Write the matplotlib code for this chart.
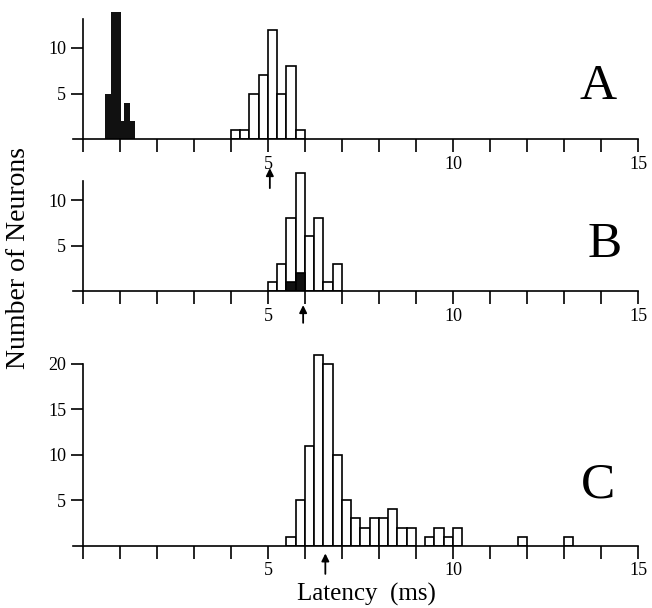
import matplotlib
matplotlib.use("Agg")
import numpy as np
import matplotlib.pyplot as plt

plt.rcParams['font.family'] = ['Liberation Serif', 'DejaVu Serif']

BIN = 0.25

# panel A: open bars (0.25 ms bins from 4.0 ms), filled bars (measured edges)
a_open_start = 4.0
a_open = [1, 1, 5, 7, 12, 5, 8, 1]
a_black_edges = [0.6, 0.75, 1.04, 1.12, 1.28, 1.4]
a_black = [5, 14, 2, 4, 2]

# panel B
b_open_start = 5.0
b_open = [1, 3, 8, 13, 6, 8, 1, 3]
b_black_start = 5.5
b_black = [1, 2]

# panel C
c_open_start = 5.5
c_open = [1, 5, 11, 21, 20, 10, 5, 3, 2, 3, 3, 4, 2, 2, 0, 1, 2, 1, 2,
          0, 0, 0, 0, 0, 0, 1, 0, 0, 0, 0, 1]

# arrows marking mean latency (ms)
arrow_x = {'A': 5.05, 'B': 5.95, 'C': 6.55}

W, H = 652, 608
fig = plt.figure(figsize=(W / 100, H / 100), dpi=100)

PX = 9.1  # pixels per neuron


def make_ax(bottom_px, top_px, spine_top):
    ax = fig.add_axes([73 / W, 1 - bottom_px / H, 565 / W, (bottom_px - top_px) / H])
    ax.set_xlim(-0.27, 15)
    ax.set_ylim(0, (bottom_px - top_px) / PX)
    for s in ['top', 'right']:
        ax.spines[s].set_visible(False)
    ax.spines['left'].set_position(('data', 0))
    ax.spines['left'].set_bounds(0, spine_top)
    for s in ['left', 'bottom']:
        ax.spines[s].set_linewidth(1.2)
    ax.set_xticks(np.arange(0, 16))
    ax.set_xticklabels(['5' if t == 5 else '10' if t == 10 else '15' if t == 15 else ''
                        for t in range(16)])
    ax.tick_params(direction='out', length=9, width=1.2, labelsize=13, pad=3)
    ax.patch.set_visible(False)
    return ax


def open_bars(ax, start, counts):
    x = start + BIN * np.arange(len(counts))
    h = np.array(counts, dtype=float)
    m = h > 0
    ax.bar(x[m], h[m], width=BIN, align='edge', facecolor='white',
           edgecolor='black', linewidth=1.2)


def arrow(ax, x, head, tail):
    ax.annotate('', xy=(x, head), xytext=(x, tail),
                arrowprops=dict(arrowstyle='-|>', lw=1.3, color='black',
                                mutation_scale=11, shrinkA=0, shrinkB=0),
                annotation_clip=False)


# A
axA = make_ax(139, 8, 13.2)
edges = np.array(a_black_edges)
axA.bar(edges[:-1], a_black, width=np.diff(edges), align='edge',
        color='#111111', linewidth=0)
open_bars(axA, a_open_start, a_open)
axA.set_yticks([5, 10])
axA.text(13.92, 4.4, 'A', fontsize=37, ha='center', va='baseline')
arrow(axA, arrow_x['A'], -3.2, -5.4)

# B
axB = make_ax(291, 170, 12.1)
open_bars(axB, b_open_start, b_open)
bx = b_black_start + BIN * np.arange(len(b_black))
axB.bar(bx, b_black, width=BIN, align='edge', color='#111111',
        edgecolor='black', linewidth=1.2)
axB.set_yticks([5, 10])
axB.text(14.1, 3.74, 'B', fontsize=37, ha='center', va='baseline')
arrow(axB, arrow_x['B'], -1.55, -3.5)

# C
axC = make_ax(545.7, 345, 20.0)
open_bars(axC, c_open_start, c_open)
axC.set_yticks([5, 10, 15, 20])
axC.text(13.92, 5.35, 'C', fontsize=37, ha='center', va='baseline')
arrow(axC, arrow_x['C'], -0.85, -3.1)

fig.text(0.028, 1 - 258 / H, 'Number of Neurons', rotation=90, fontsize=20,
         ha='center', va='center')
fig.text(366 / W, 1 - 594 / H, 'Latency  (ms)', fontsize=18,
         ha='center', va='center')

fig.savefig('out.png', dpi=100)
